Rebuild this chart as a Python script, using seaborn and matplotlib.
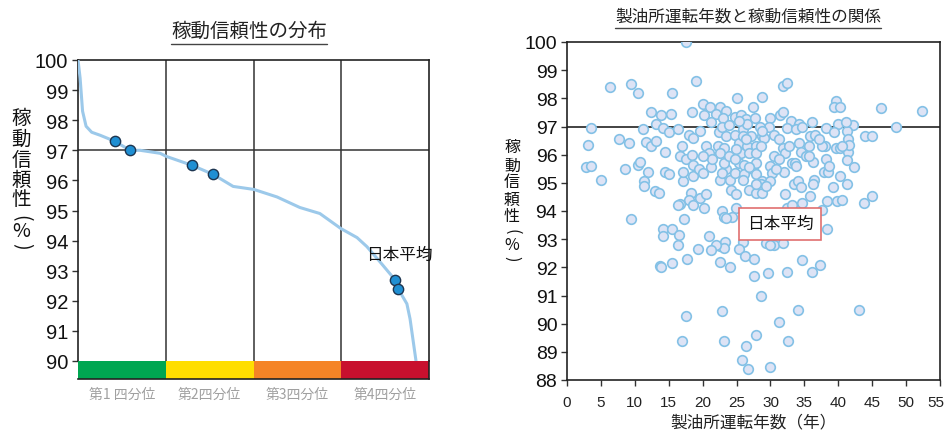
import matplotlib
matplotlib.use("Agg")
import matplotlib.pyplot as plt
from matplotlib.lines import Line2D
from matplotlib.transforms import ScaledTranslation
import seaborn as sns
import pandas as pd

# ---------------- data ----------------
# sorted reliability distribution (percentile rank vs. reliability %)
dist_pct = [0, 0.6, 1.3, 2.3, 3.9, 6.3, 10.5, 14.8, 17.7, 23.4, 25.1, 32.5, 38.5,
            44.2, 50.1, 56.7, 63.2, 68.9, 74.9, 79.5, 82.3, 86.0, 90.3, 91.2,
            93.7, 94.6, 96.3]
dist_rel = [100, 99.4, 98.3, 97.8, 97.6, 97.5, 97.3, 97.0, 97.0, 96.9, 96.8, 96.5,
            96.2, 95.8, 95.7, 95.45, 95.1, 94.9, 94.4, 94.1, 93.8, 93.3, 92.7,
            92.4, 91.9, 91.4, 90.0]

# highlighted refineries on the distribution
hl_pct = [10.5, 14.8, 32.5, 38.5, 90.3, 91.2]
hl_rel = [97.3, 97.0, 96.5, 96.2, 92.7, 92.4]

quartiles = ["第1 四分位", "第2四分位", "第3四分位", "第4四分位"]
quartile_colors = ["#00a651", "#ffde00", "#f58426", "#c8102e"]

japan_avg = 97.0

# refinery operating years vs. reliability
ages = [17.6, 19.0, 6.3, 9.4, 10.5, 15.5, 31.8, 32.4, 25.1, 28.8, 39.6, 39.4, 40.3,
        46.3, 52.4, 48.5, 3.6, 12.4, 15.3, 13.8, 18.4, 20.0, 21.1, 22.5, 23.5, 27.4,
        24.7, 25.7, 26.4, 27.7, 20.2, 22.0, 23.0, 30.0, 31.4, 31.9, 33.0, 34.2, 36.1,
        40.0, 42.2, 13.1, 11.2, 14.1, 15.1, 16.3, 18.0, 19.6, 21.3, 22.4, 22.9, 23.5,
        24.7, 25.9, 26.6, 27.1, 28.7, 29.8, 30.5, 32.4, 33.7, 34.7, 35.9, 36.6, 38.2,
        39.4, 41.3, 43.9, 45.0, 7.7, 9.1, 3.1, 11.7, 12.4, 13.1, 14.5, 17.0, 18.6,
        20.5, 21.0, 22.2, 23.2, 22.5, 25.3, 25.6, 26.6, 26.9, 27.8, 29.1, 30.5, 31.8,
        32.1, 34.2, 34.5, 35.7, 38.1, 39.6, 40.3, 41.5, 41.4, 41.6, 16.6, 17.5, 18.4,
        2.8, 3.6, 5.0, 8.6, 10.5, 10.8, 11.9, 14.4, 15.0, 18.6, 18.6, 19.4, 20.0,
        21.2, 22.5, 23.4, 23.2, 24.0, 24.7, 25.3, 26.1, 26.1, 27.4, 27.8, 27.8, 28.8,
        30.0, 30.2, 30.0, 31.2, 32.0, 33.2, 33.6, 36.2, 36.4, 37.9, 38.2, 40.2, 41.3,
        42.3, 41.3, 11.4, 11.4, 13.0, 13.5, 17.1, 18.3, 18.0, 19.6, 20.5, 18.6, 20.2,
        24.2, 24.9, 26.9, 27.8, 28.8, 28.6, 32.2, 33.5, 34.0, 34.5, 34.7, 35.9, 36.2,
        38.5, 39.2, 38.4, 39.8, 40.6, 43.8, 45.0, 16.6, 16.3, 9.5, 17.2, 14.1, 14.2,
        15.5, 16.5, 16.3, 21.0, 22.9, 23.1, 24.9, 24.3, 23.5, 22.5, 23.3, 23.2, 21.9,
        32.5, 33.2, 30.5, 31.8, 37.6, 38.3, 25.9, 29.3, 30.0, 13.7, 13.8, 15.5, 17.7,
        19.3, 21.2, 22.6, 24.0, 25.4, 26.2, 27.6, 27.6, 29.6, 32.5, 34.7, 36.1, 37.3,
        17.6, 22.8, 34.1, 43.0, 31.2, 28.6, 16.9, 23.1, 32.6, 27.8, 26.4, 25.8, 26.7,
        29.9, 23.9, 25.4, 25.9, 28.4, 28.8, 24.9, 26.4, 23.9, 24.7, 27.8, 28.6, 31.3,
        32.7, 35.2, 33.7, 30.8, 26.9, 25.9, 27.8, 29.3, 22.9, 21.4, 20.0, 17.1, 37.6,
        38.6, 37.1, 35.7, 41.1, 40.6]
reliability = [100.0, 98.6, 98.4, 98.5, 98.2, 98.2, 98.45, 98.55, 98.0, 98.05, 97.9,
               97.7, 97.7, 97.65, 97.55, 97.0, 96.95, 97.5, 97.45, 97.4, 97.5, 97.8,
               97.7, 97.7, 97.55, 97.7, 97.35, 97.4, 97.25, 97.3, 97.4, 97.45, 97.3,
               97.3, 97.4, 97.5, 97.2, 97.1, 97.15, 97.1, 97.05, 97.1, 96.9, 96.95,
               96.8, 96.9, 96.7, 96.85, 97.15, 96.8, 97.0, 96.65, 96.7, 96.9, 97.1,
               96.65, 96.65, 97.0, 96.7, 96.95, 96.9, 97.0, 96.65, 96.7, 96.95, 96.8,
               96.85, 96.65, 96.65, 96.55, 96.4, 96.35, 96.45, 96.3, 96.5, 96.1, 96.3,
               96.6, 96.3, 96.05, 96.3, 96.25, 96.05, 96.4, 96.05, 96.3, 96.05, 96.3,
               96.6, 95.95, 96.25, 96.05, 96.4, 96.1, 96.3, 96.3, 96.25, 96.25, 96.55,
               96.1, 96.35, 95.95, 95.85, 96.0, 95.55, 95.6, 95.1, 95.5, 95.65, 95.75,
               95.4, 95.4, 95.3, 95.65, 95.25, 95.5, 95.35, 95.55, 95.1, 95.5, 95.7,
               95.1, 95.35, 95.7, 95.65, 95.3, 95.5, 95.7, 95.3, 95.05, 95.6, 95.35,
               95.05, 95.85, 95.4, 95.7, 95.7, 95.75, 95.1, 95.4, 95.85, 95.25, 95.8,
               95.55, 94.95, 95.05, 94.9, 94.7, 94.65, 95.05, 94.65, 94.4, 94.45, 94.6,
               94.2, 94.1, 94.75, 94.6, 94.75, 94.65, 94.65, 94.95, 94.6, 94.95, 95.05,
               94.85, 94.3, 94.55, 94.95, 95.4, 94.85, 94.35, 94.35, 94.4, 94.3, 94.55,
               94.25, 94.2, 93.7, 93.7, 93.35, 93.1, 93.35, 93.15, 92.8, 93.1, 94.0,
               93.8, 94.1, 93.8, 93.75, 92.75, 92.9, 92.7, 92.8, 94.1, 94.2, 92.8,
               92.85, 94.05, 93.35, 92.9, 92.85, 92.8, 92.05, 92.0, 92.15, 92.3, 92.65,
               92.6, 92.2, 92.0, 92.65, 92.4, 92.3, 91.7, 91.8, 91.85, 92.25, 91.85,
               92.1, 90.27, 90.45, 90.5, 90.5, 90.05, 91.0, 89.4, 89.4, 89.4, 89.6,
               89.2, 88.7, 88.4, 88.45, 97.05, 97.2, 96.65, 97.0, 96.85, 96.2, 96.55,
               95.95, 95.85, 96.05, 96.3, 96.55, 96.3, 95.95, 95.6, 95.5, 95.55, 95.1,
               94.95, 94.9, 95.35, 95.85, 95.95, 95.4, 96.3, 95.6, 96.55, 95.95, 97.15,
               96.3]

year_ticks = list(range(0, 56, 5))
rel_ticks_left = list(range(90, 101))
rel_ticks_right = list(range(88, 101))

# ---------------- style ----------------
sns.set_theme(style="white")
JP = ["Noto Sans CJK JP", "DejaVu Sans"]
NUM = ["Liberation Sans", "Noto Sans CJK JP", "DejaVu Sans"]
plt.rcParams["font.family"] = JP

W, H = 947, 431
fig = plt.figure(figsize=(W / 100, H / 100), dpi=100)
fig.patch.set_facecolor("white")


def fx(px):
    return px / W


def fy(py):
    return 1 - py / H


# ---------------- left: distribution ----------------
axL = fig.add_axes([fx(78), fy(362), fx(351), (362 - 61) / H])
dist_df = pd.DataFrame({"pct": dist_pct, "rel": dist_rel})
sns.lineplot(data=dist_df, x="pct", y="rel", sort=False, ax=axL,
             color="#9cc9ea", lw=2.2, zorder=3)
sns.scatterplot(x=hl_pct, y=hl_rel, ax=axL, s=55, color="#1f8fd3",
                edgecolor="#1d3550", linewidth=1.0, zorder=4)
axL.set_xlim(0, 100)
axL.set_ylim(90, 100)
axL.set_xticks([25, 50, 75])
axL.set_xticklabels([])
axL.tick_params(axis="x", length=0)
for v in [25, 50, 75]:
    axL.axvline(v, color="#333333", lw=1.1, zorder=1)
axL.axhline(japan_avg, color="#333333", lw=1.1, zorder=1)
axL.set_yticks(rel_ticks_left)
axL.set_yticklabels([str(t) for t in rel_ticks_left], fontsize=14.5, family=NUM,
                    color="#111111")
axL.tick_params(axis="y", left=True, length=4, width=1, pad=3, color="#333333")
axL.set_xlabel("")
axL.set_ylabel("")
for side in ["left", "top", "right"]:
    axL.spines[side].set_color("#222222")
    axL.spines[side].set_linewidth(1.2)
axL.spines["bottom"].set_visible(False)
axL.text(91.5, 93.55, "日本平均", ha="center", va="center", fontsize=12,
         color="#111111", zorder=5)

# quartile colour strip
axB = fig.add_axes([fx(78), fy(380), fx(351), 18 / H])
sns.barplot(x=quartiles, y=[1, 1, 1, 1], hue=quartiles, palette=quartile_colors,
            legend=False, width=1.0, ax=axB, saturation=1, edgecolor="none")
axB.set_xlim(-0.5, 3.5)
axB.set_ylim(0, 1)
axB.set_yticks([])
axB.set_xlabel("")
axB.set_ylabel("")
axB.tick_params(axis="x", length=0, pad=6)
axB.set_xticks(range(4))
axB.set_xticklabels(quartiles, fontsize=10, color="#a0a0a0")
for side in ["left", "top"]:
    axB.spines[side].set_visible(False)
for side in ["bottom", "right"]:
    axB.spines[side].set_color("#222222")
    axB.spines[side].set_linewidth(1.2)

# ---------------- right: operating years vs reliability ----------------
axR = fig.add_axes([fx(567), fy(381), fx(373), (381 - 43) / H])
scat_df = pd.DataFrame({"age": ages, "rel": reliability})
sns.scatterplot(data=scat_df, x="age", y="rel", ax=axR, s=48,
                color="#dde3f5", edgecolor="#84c1e6", linewidth=1.2, zorder=3)
axR.axhline(japan_avg, color="#222222", lw=1.2, zorder=2)
axR.set_xlim(0, 55)
axR.set_ylim(88, 100)
axR.set_xticks(year_ticks)
axR.set_xticklabels([str(t) for t in year_ticks], fontsize=11, family=NUM,
                    color="#222222")
axR.set_yticks(rel_ticks_right)
axR.set_yticklabels([str(t) for t in rel_ticks_right], fontsize=14, family=NUM,
                    color="#111111")
axR.tick_params(axis="y", length=4, width=1, color="#333333", pad=3, left=True)
axR.tick_params(axis="x", length=4, width=1, color="#333333", pad=7, bottom=True)
# keep the last year label inside the canvas
last = axR.get_xticklabels()[-1]
last.set_transform(last.get_transform()
                   + ScaledTranslation(-3 / 72, 0, fig.dpi_scale_trans))
axR.set_xlabel("製油所運転年数（年）", fontsize=12, labelpad=3, color="#222222")
axR.set_ylabel("")
for side in axR.spines:
    axR.spines[side].set_color("#222222")
    axR.spines[side].set_linewidth(1.2)
axR.text(0.571, 0.462, "日本平均", transform=axR.transAxes, ha="center",
         va="center", fontsize=12, color="#111111", zorder=6,
         bbox=dict(boxstyle="square,pad=0.45", facecolor="white",
                   edgecolor="#e07070", linewidth=1.2))

# ---------------- titles and vertical axis labels ----------------
tL = fig.text(fx(249), fy(31), "稼動信頼性の分布", ha="center", va="center",
              fontsize=14, color="#222222")
tR = fig.text(fx(748), fy(17), "製油所運転年数と稼動信頼性の関係", ha="center",
              va="center", fontsize=12, color="#222222")

# vertical (tategaki) axis labels: one glyph per row, brackets turned sideways
ylabel_chars = ["稼", "動", "信", "頼", "性", "(", "%", ")"]
ylabel_rot = [0, 0, 0, 0, 0, -90, 0, -90]
left_rows = [118, 139, 160, 180, 200, 218, 232, 246]
right_rows = [147, 166, 183, 200, 217, 232, 246, 259]
for ch, rot, py in zip(ylabel_chars, ylabel_rot, left_rows):
    fig.text(fx(21), fy(py), ch, ha="center", va="center", fontsize=14,
             rotation=rot, rotation_mode="anchor", color="#111111")
for ch, rot, py in zip(ylabel_chars, ylabel_rot, right_rows):
    fig.text(fx(512), fy(py), ch, ha="center", va="center", fontsize=11.5,
             rotation=rot, rotation_mode="anchor", color="#111111")

# underline the two titles
fig.canvas.draw()
renderer = fig.canvas.get_renderer()
for t, gap in [(tL, 3), (tR, 3)]:
    bb = t.get_window_extent(renderer)
    yline = (bb.y0 - gap) / H
    fig.add_artist(Line2D([bb.x0 / W, bb.x1 / W], [yline, yline],
                          transform=fig.transFigure, color="#444444", lw=1.0))

fig.savefig("out.png", dpi=100, facecolor="white")
